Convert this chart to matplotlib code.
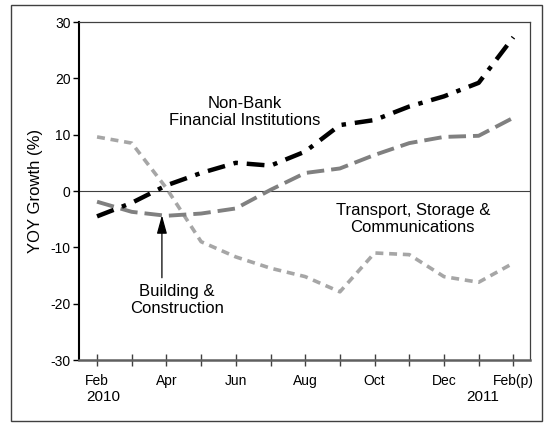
import matplotlib
matplotlib.use("Agg")
import matplotlib.pyplot as plt
from matplotlib.patches import Rectangle

plt.rcParams['font.family'] = ['Liberation Sans', 'DejaVu Sans']
plt.rcParams['axes.unicode_minus'] = False

months = ["Feb", "Mar", "Apr", "May", "Jun", "Jul", "Aug", "Sep", "Oct", "Nov", "Dec", "Jan", "Feb(p)"]
tick_labels = ["Feb", "", "Apr", "", "Jun", "", "Aug", "", "Oct", "", "Dec", "", "Feb(p)"]

nbfi = [-4.5, -2.1, 1.0, 3.2, 5.0, 4.5, 7.0, 11.7, 12.6, 15.0, 16.8, 19.2, 27.3]
building = [-1.9, -3.7, -4.4, -4.0, -3.1, 0.2, 3.2, 4.0, 6.4, 8.5, 9.6, 9.8, 13.0]
transport = [9.6, 8.5, 0.5, -9.0, -11.7, -13.7, -15.2, -17.9, -11.0, -11.3, -15.2, -16.2, -12.8]

W, H = 552, 423
fig = plt.figure(figsize=(W / 100, H / 100), dpi=100)
ax = fig.add_axes([79 / W, 1 - 360 / H, (530 - 79) / W, (360 - 22) / H])

x = list(range(len(months)))

ax.axhline(0, color="#404040", lw=0.8, zorder=1)

ax.plot(x, transport, color="#a6a6a6", lw=2.6, dashes=(2.2, 1.6), zorder=2)
ax.plot(x, building, color="#808080", lw=2.8, dashes=(4.5, 1.8), zorder=3)
ax.plot(x, nbfi, color="black", lw=3.2, dashes=(4.0, 2.0, 1.0, 2.0), zorder=4)

ax.set_xlim(-0.52, 12.48)
ax.set_ylim(-30, 30)
ax.set_yticks([-30, -20, -10, 0, 10, 20, 30])
ax.set_xticks(x)
ax.set_xticklabels(tick_labels)
ax.tick_params(axis="x", direction="inout", length=8, width=1, color="#404040", labelsize=10, pad=6)
ax.tick_params(axis="y", direction="out", length=4, width=1, color="black", labelsize=10, pad=2)

for s in ["top", "right"]:
    ax.spines[s].set_linewidth(0.9)
    ax.spines[s].set_color("#404040")
ax.spines["left"].set_linewidth(1.5)
ax.spines["left"].set_color("black")
ax.spines["bottom"].set_linewidth(1.8)
ax.spines["bottom"].set_color("#606060")

ax.set_ylabel("YOY Growth (%)", fontsize=12, labelpad=5)

ax.text(0.17, -36.6, "2010", ha="center", va="center", fontsize=11)
ax.text(11.12, -36.6, "2011", ha="center", va="center", fontsize=11)

ax.text(4.27, 14.0, "Non-Bank\nFinancial Institutions", ha="center", va="center",
        fontsize=12, linespacing=1.2)
ax.text(9.1, -5.0, "Transport, Storage &\nCommunications", ha="center", va="center",
        fontsize=12, linespacing=1.2)
ax.text(2.3, -19.4, "Building &\nConstruction", ha="center", va="center",
        fontsize=12, linespacing=1.2)
ax.annotate("", xy=(1.87, -4.3), xytext=(1.87, -15.4),
            arrowprops=dict(arrowstyle="-|>,head_length=0.8,head_width=0.22", color="black", lw=0.9,
                            mutation_scale=14, shrinkA=0, shrinkB=0))

fig.patches.append(Rectangle((11 / W, 1 - 421 / H), (542 - 11) / W, (421 - 5) / H,
                             transform=fig.transFigure, fill=False,
                             edgecolor="#404040", lw=1.0))

fig.savefig("out.png", dpi=100)
